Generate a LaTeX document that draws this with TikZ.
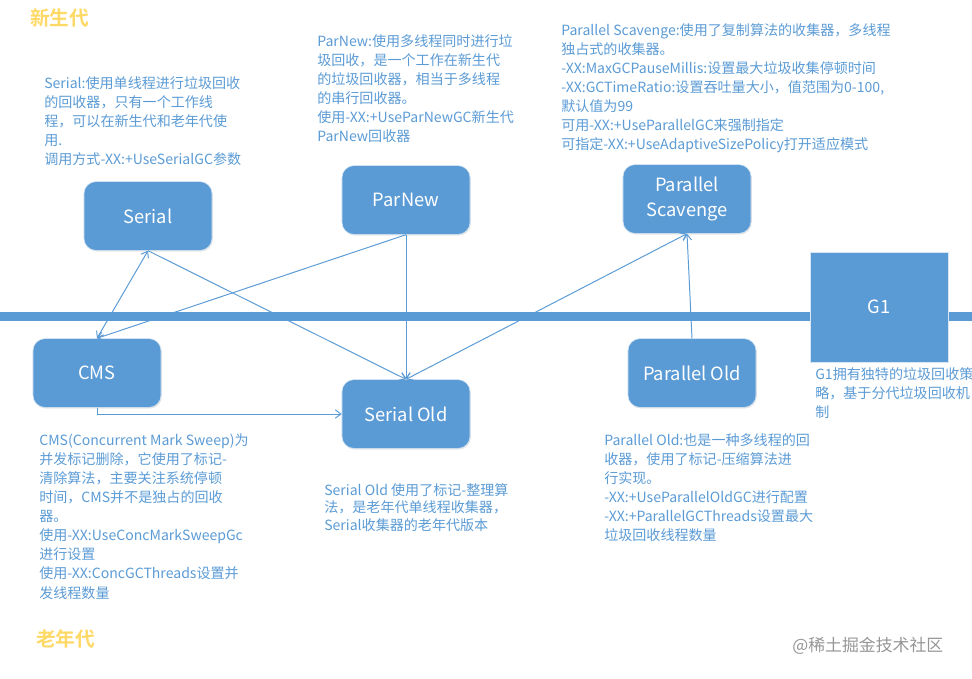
\documentclass[tikz,border=0pt]{standalone}
\usepackage{fontspec}
\setmainfont{Noto Sans CJK SC}[BoldFont={Noto Sans CJK SC Bold}]
\usepackage{tikz}
\usetikzlibrary{arrows.meta}
\usetikzlibrary{shadows}
\definecolor{gcblue}{RGB}{91,155,213}
\definecolor{gcyellow}{RGB}{255,217,102}
\definecolor{gcgray}{RGB}{150,150,150}
\def\boxw{3.2cm}
\def\boxh{1.72cm}

\begin{document}
\begin{tikzpicture}[	x=0.025cm, y=-0.025cm,
				>={Straight Barb[length=4pt,width=6pt]},
				gc/.style={draw=white!75!gcblue,fill=gcblue,text=white,rounded corners=0.3cm,
					minimum width=\boxw,minimum height=\boxh,align=center,
					font=\fontsize{13}{18}\selectfont,
					drop shadow={opacity=0.2,shadow xshift=0.6pt,shadow yshift=-0.8pt}},
				note/.style={anchor=north west,inner sep=0pt,align=left,text=gcblue,
					font=\fontsize{10}{13.6}\selectfont},
				gen/.style={anchor=north west,inner sep=0pt,text=gcyellow,
					font=\fontsize{14}{16}\selectfont\bfseries},
				conn/.style={gcblue,line width=0.7pt}]

	% Frame
	\clip (0,0) rectangle (972,678);
	\fill[gcblue] (0,312) rectangle (972,321);

	% Generations
	\node[gen] (young) at (30,8) {新生代};
	\node[gen] (old) at (36,629) {老年代};

	% Collectors
	\node[gc] (serial)   at (148,216) {Serial};
	\node[gc] (parnew)   at (406,200) {ParNew};
	\node[gc] (parscav)  at (687,199) {Parallel\\Scavenge};
	\node[gc] (cms)      at (97,373)  {CMS};
	\node[gc] (serold)   at (406,414) {Serial Old};
	\node[gc] (parold)   at (692,373) {Parallel Old};
	\node[gc,rounded corners=0pt,minimum width=3.45cm,minimum height=2.75cm,drop shadow={opacity=0}] (g1) at (879,307) {G1};

	% Combinations
	\draw[conn,<->] (serial.south) -- (cms.north);
	\draw[conn,->] (serial.south) -- (serold.north);
	\draw[conn,->] (parnew.south) -- (cms.north);
	\draw[conn,->] (parnew.south) -- (serold.north);
	\draw[conn,<->] (serold.north) -- (parscav.south);
	\draw[conn,->] (parold.north) -- (parscav.south);
	\draw[conn,->] (cms.south) |- (serold.west);

	% Notes
	\node[note] (serialnote) at (44,76) {Serial:使用单线程进行垃圾回收\\的回收器，只有一个工作线\\程，可以在新生代和老年代使\\用.\\调用方式-XX:+UseSerialGC参数};
	\node[note] (parnewnote) at (317,34) {ParNew:使用多线程同时进行垃\\圾回收，是一个工作在新生代\\的垃圾回收器，相当于多线程\\的串行回收器。\\使用-XX:+UseParNewGC新生代\\ParNew回收器};
	\node[note] (parscavnote) at (561,23) {Parallel Scavenge:使用了复制算法的收集器，多线程\\独占式的收集器。\\-XX:MaxGCPauseMillis:设置最大垃圾收集停顿时间\\-XX:GCTimeRatio:设置吞吐量大小，值范围为0-100,\\默认值为99\\可用-XX:+UseParallelGC来强制指定\\可指定-XX:+UseAdaptiveSizePolicy打开适应模式};
	\node[note] (cmsnote) at (39,433) {CMS(Concurrent Mark Sweep)为\\并发标记删除，它使用了标记-\\清除算法，主要关注系统停顿\\时间，CMS并不是独占的回收\\器。\\使用-XX:UseConcMarkSweepGc\\进行设置\\使用-XX:ConcGCThreads设置并\\发线程数量};
	\node[note,font=\fontsize{10}{12.6}\selectfont] (seroldnote) at (324,483) {Serial Old 使用了标记-整理算\\法，是老年代单线程收集器，\\Serial收集器的老年代版本};
	\node[note] (paroldnote) at (604,433) {Parallel Old:也是一种多线程的回\\收器，使用了标记-压缩算法进\\行实现。\\-XX:+UseParallelOldGC进行配置\\-XX:+ParallelGCThreads设置最大\\垃圾回收线程数量};
	\node[note] (g1note) at (815,367) {G1拥有独特的垃圾回收策\\略，基于分代垃圾回收机\\制};

	% Watermark
	\node[anchor=west,inner sep=0pt,text=gcgray,font=\fontsize{12}{14}\selectfont] (mark) at (792,646) {@稀土掘金技术社区};

\end{tikzpicture}
\end{document}
